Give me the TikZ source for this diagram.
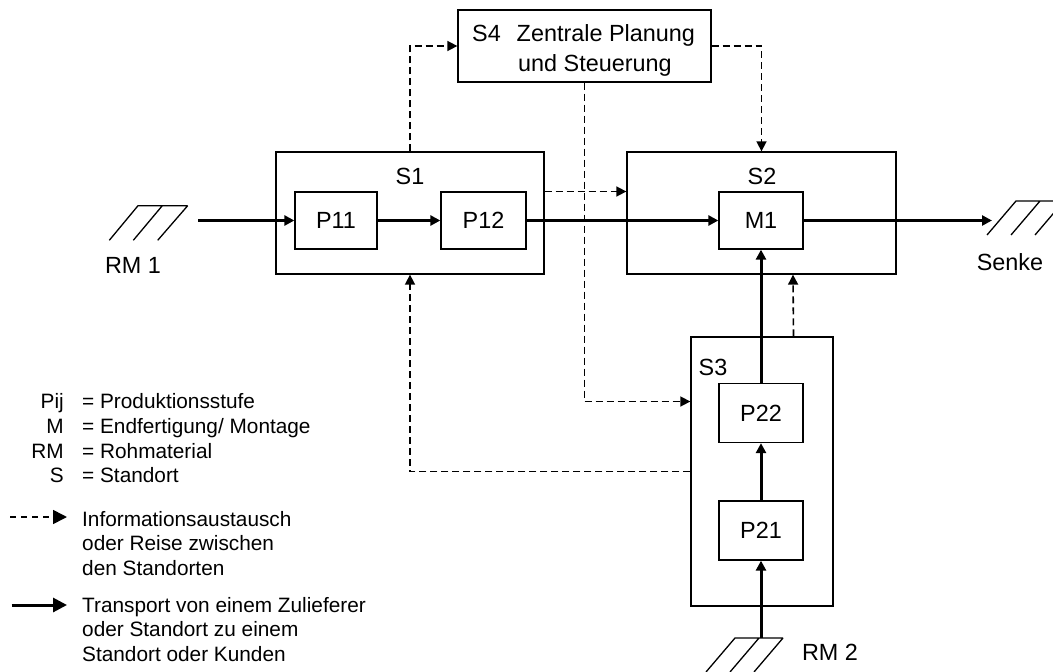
\documentclass[tikz,border=0pt]{standalone}
\usepackage{fontspec}
\setmainfont{Liberation Sans}
\usetikzlibrary{arrows.meta}
\begin{document}
\begin{tikzpicture}[x=1pt,y=-1pt,
  box/.style={draw,line width=1.3pt,inner sep=0pt,font=\fontsize{23.4}{28}\selectfont},
  lbl/.style={inner sep=0pt,font=\fontsize{23.4}{30}\selectfont},
  flow/.style={line width=3pt,-{Triangle[length=10pt,width=10pt]}},
  info/.style={line width=1.6pt,dash pattern=on 7pt off 4pt,-{Triangle[length=10pt,width=10pt]}},
  hatch/.style={line width=1.3pt},
  legend/.style={inner sep=0pt,font=\fontsize{20.8}{24.6}\selectfont},
  keyflow/.style={line width=3pt,-{Triangle[length=14pt,width=14pt]}},
  keyinfo/.style={line width=1.6pt,dash pattern=on 6pt off 5pt,-{Triangle[length=14pt,width=14pt]}}]
\useasboundingbox (0,0) rectangle (1053,672);
\clip (0,0) rectangle (1053,672);

% sites and production stages
\node[box,minimum width=268pt,minimum height=122pt] (S1) at (410,213) {};
\node[lbl] (S1l) at (410,176) {S1};
\node[box,minimum width=82pt,minimum height=57pt] (P11) at (336,220.5) {P11};
\node[box,minimum width=85pt,minimum height=57pt] (P12) at (483.5,220.5) {P12};

\node[box,minimum width=269pt,minimum height=122pt] (S2) at (761.5,213) {};
\node[lbl] (S2l) at (762,176) {S2};
\node[box,minimum width=84pt,minimum height=57pt] (M1) at (761,220.5) {M1};

\node[box,minimum width=253pt,minimum height=72pt] (S4) at (584.5,46) {};
\node[lbl,anchor=base west] (S4l) at (472,41.3) {S4};
\node[lbl,anchor=base west,align=left] (S4t) at (516.5,71.3) {Zentrale Planung\\\hspace{1.5pt}und Steuerung};

\node[box,minimum width=142pt,minimum height=269pt] (S3) at (762,471.5) {};
\node[lbl] (S3l) at (713,367) {S3};
\node[box,minimum width=84pt,minimum height=59pt] (P22) at (761,413) {P22};
\node[box,minimum width=84pt,minimum height=59pt] (P21) at (761,530.5) {P21};

% raw material sources and sink
\draw[hatch] (109.3,240.3) -- (138,205.7) -- (187.7,205.7)
             (133.3,240.3) -- (162.3,205.7)
             (157.7,240.3) -- (187.7,205.7);
\node[lbl] (RM1) at (133,265) {RM 1};
\draw[hatch] (987,235) -- (1016,201) -- (1070,201)
             (1011,235) -- (1040,201)
             (1035,235) -- (1064,201);
\node[lbl] (Senke) at (1010,262) {Senke};
\draw[hatch] (706,672) -- (735,638) -- (783,638)
             (730,672) -- (759,638)
             (754,672) -- (783,638);
\node[lbl] (RM2) at (830,652) {RM 2};

% material flow
\coordinate (rm1) at (198,220.5);
\coordinate (snk) at (992,220.5);
\coordinate (rm2) at (761,638);
\draw[flow] (rm1) -- (P11);
\draw[flow] (P11) -- (P12);
\draw[flow] (P12) -- (M1);
\draw[flow] (M1) -- (snk);
\draw[flow] (rm2) -- (P21);
\draw[flow] (P21) -- (P22);
\draw[flow] (P22) -- (M1);

% information exchange
\draw[info] (S1.north) |- (S4.west);
\draw[info] (S4.east) -| (S2.north);
\draw[info] ([yshift=21.5pt]S1.east) -- ([yshift=21.5pt]S2.west);
\draw[info] (S4.south) |- ([yshift=70pt]S3.west);
\draw[info] (S3.west) -| (S1.south);
\draw[info] ([xshift=31.5pt]S3.north) -- ([xshift=31.5pt]S2.south);

% key
\node[legend,anchor=base east] (k1) at (64,408.3) {Pij};
\node[legend,anchor=base east] (k2) at (64,433.3) {M};
\node[legend,anchor=base east] (k3) at (64,458.3) {RM};
\node[legend,anchor=base east] (k4) at (64,482.7) {S};
\node[legend,anchor=base west] (d1) at (82,408.3) {= Produktionsstufe};
\node[legend,anchor=base west] (d2) at (82,433.3) {= Endfertigung/ Montage};
\node[legend,anchor=base west] (d3) at (82,458.3) {= Rohmaterial};
\node[legend,anchor=base west] (d4) at (82,482.7) {= Standort};

\coordinate (ki0) at (10,517);
\coordinate (ki1) at (67,517);
\draw[keyinfo] (ki0) -- (ki1);
\node[legend,anchor=base west,align=left] (ti) at (82,575.3) {Informationsaustausch\\oder Reise zwischen\\den Standorten};
\coordinate (kf0) at (11.7,605);
\coordinate (kf1) at (67,605);
\draw[keyflow] (kf0) -- (kf1);
\node[legend,anchor=base west,align=left] (tf) at (82,661.2) {Transport von einem Zulieferer\\oder Standort zu einem\\Standort oder Kunden};
\end{tikzpicture}
\end{document}
